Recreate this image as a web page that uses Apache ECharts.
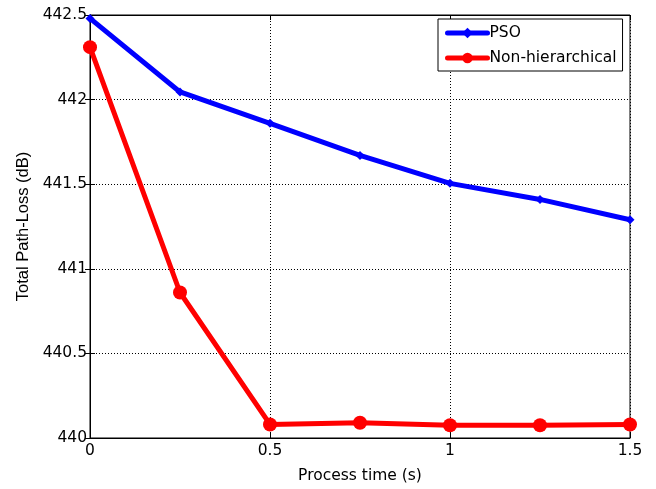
<!DOCTYPE html>
<html><head><meta charset="utf-8">
<script src="https://cdn.jsdelivr.net/npm/echarts@6/dist/echarts.min.js"></script>
<style>html,body{margin:0;padding:0;background:#fff}#c{width:656px;height:489px}</style>
</head><body><div id="c"></div>
<script>
var times = [0, 0.25, 0.5, 0.75, 1, 1.25, 1.5];
var psoValues = [442.48, 442.045, 441.86, 441.67, 441.505, 441.41, 441.29];
var nonHierValues = [442.31, 440.86, 440.08, 440.09, 440.075, 440.075, 440.08];
var xTicks = [0, 0.5, 1, 1.5];
var yTicks = [440, 440.5, 441, 441.5, 442, 442.5];

function pairs(xs, ys){ return xs.map(function(x,i){return [x, ys[i]];}); }
var wideFont = 'DejaVu Sans, Verdana, sans-serif';
var font = 'Liberation Sans, Arial, sans-serif';
var chart = echarts.init(document.getElementById('c'));
var splitDotted = {show:true, lineStyle:{color:'#000', type:[1,2], width:1}};
chart.setOption({
  animation:false,
  backgroundColor:'#fff',
  grid:{left:90, right:26, top:15, bottom:49, show:true, borderColor:'#000', borderWidth:1},
  legend:{
    orient:'vertical', left:438, top:19,
    backgroundColor:'#fff', borderColor:'#000', borderWidth:1, borderRadius:0,
    padding:[5,6,4,7], itemGap:7, itemWidth:40, itemHeight:13,
    lineStyle:{width:5},
    textStyle:{fontFamily:wideFont, fontSize:15.5, color:'#000', padding:[0,0,0,-3], lineHeight:18},
    data:['PSO','Non-hierarchical']
  },
  xAxis:[{
    type:'value', min:0, max:1.5, interval:0.5,
    name:'Process time (s)', nameLocation:'middle', nameGap:30,
    nameTextStyle:{fontFamily:wideFont, fontSize:15.5, color:'#000'},
    axisLine:{show:true, lineStyle:{color:'#000', width:1}},
    axisTick:{show:true, inside:true, length:5, lineStyle:{color:'#000'}},
    axisLabel:{fontFamily:wideFont, fontSize:15.5, color:'#000', margin:5,
      formatter:function(v){return String(v);} },
    splitLine:splitDotted
  },{
    type:'value', min:0, max:1.5, interval:0.5, position:'top',
    axisLine:{show:true, lineStyle:{color:'#000'}},
    axisTick:{show:true, inside:true, length:5, lineStyle:{color:'#000'}},
    axisLabel:{show:false}, splitLine:{show:false}
  }],
  yAxis:[{
    type:'value', min:440, max:442.5, interval:0.5,
    name:'Total Path-Loss (dB)', nameLocation:'middle', nameGap:56, nameRotate:90,
    nameTextStyle:{fontFamily:font, fontSize:16.5, color:'#000'},
    axisLine:{show:true, lineStyle:{color:'#000', width:1}},
    axisTick:{show:true, inside:true, length:5, lineStyle:{color:'#000'}},
    axisLabel:{fontFamily:wideFont, fontSize:15.5, color:'#000', margin:3,
      formatter:function(v){return String(Math.round(v*10)/10);} },
    splitLine:splitDotted
  },{
    type:'value', min:440, max:442.5, interval:0.5, position:'right',
    axisLine:{show:true, lineStyle:{color:'#000'}},
    axisTick:{show:true, inside:true, length:5, lineStyle:{color:'#000'}},
    axisLabel:{show:false}, splitLine:{show:false}
  }],
  series:[{
    name:'PSO', type:'line', data:pairs(times, psoValues),
    symbol:'diamond', symbolSize:9, showAllSymbol:true,
    lineStyle:{color:'#0000ff', width:5, join:'round', cap:'round'}, itemStyle:{color:'#0000ff'}, z:3
  },{
    name:'Non-hierarchical', type:'line', data:pairs(times, nonHierValues),
    symbol:'circle', symbolSize:14, showAllSymbol:true,
    lineStyle:{color:'#ff0000', width:5, join:'round', cap:'round'}, itemStyle:{color:'#ff0000'}, z:4
  }]
});
</script></body></html>
